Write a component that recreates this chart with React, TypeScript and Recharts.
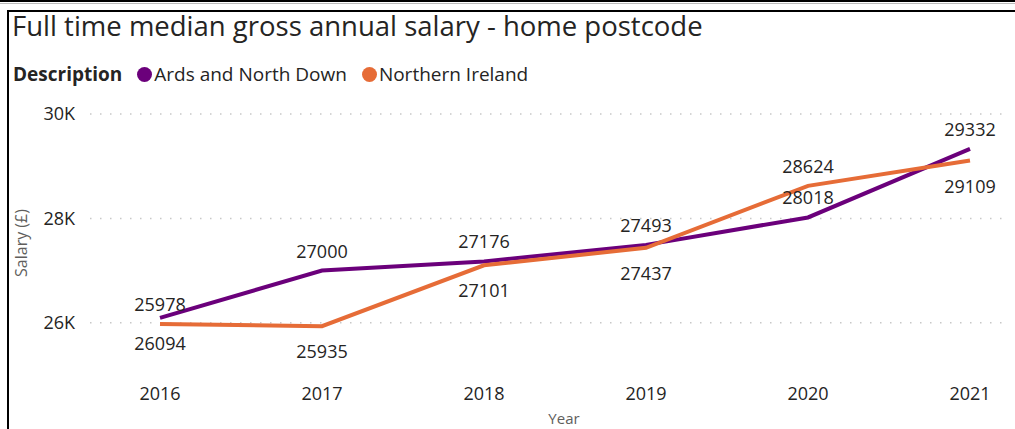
import React from "react";
import { LineChart, Line, XAxis, YAxis, CartesianGrid, Legend, LabelList } from "recharts";

const years = ["2016", "2017", "2018", "2019", "2020", "2021"];
const ardsSalary = [26094, 27000, 27176, 27493, 28018, 29332];
const niSalary = [25978, 25935, 27101, 27437, 28624, 29109];
// where Power BI put each data label relative to its point
const ardsLabelSide = ["below", "above", "above", "above", "above", "above"];
const niLabelSide = ["above", "below", "below", "below", "above", "below"];
const yTicks = [26000, 28000, 30000];

const PURPLE = "#6B007B";
const ORANGE = "#E66C37";
const FONT = "'Open Sans', 'Noto Sans', sans-serif";
const TEXT = "#252423";

const data = years.map((year, i) => ({
  year,
  ards: ardsSalary[i],
  ni: niSalary[i],
}));

function makeLabel(sides: string[]) {
  return (props: any) => {
    const { x, y, value, index } = props;
    const dy = sides[index] === "below" ? 25 : -20;
    return (
      <text
        x={x}
        y={y + dy}
        textAnchor="middle"
        dominantBaseline="central"
        fontSize={18}
        fontFamily={FONT}
        fill={TEXT}
      >
        {value}
      </text>
    );
  };
}

function LegendContent({ payload }: any) {
  return (
    <div style={{ display: "flex", alignItems: "center", fontFamily: FONT, fontSize: 19, color: TEXT, whiteSpace: "nowrap" }}>
      <span style={{ fontWeight: 700, marginRight: 15 }}>Description</span>
      {(payload || []).map((p: any) => (
        <span key={p.value} style={{ display: "flex", alignItems: "center", marginRight: 15 }}>
          <span
            style={{ width: 15, height: 15, borderRadius: 8, background: p.color, display: "inline-block", marginRight: 2 }}
          />
          {p.value}
        </span>
      ))}
    </div>
  );
}

export default function App() {
  return (
    <div style={{ position: "absolute", left: 0, top: 0, width: 1015, height: 429, overflow: "hidden", background: "#fff" }}>
      <div style={{ position: "absolute", left: 0, top: 0, width: 1015, height: 2, background: "#000" }} />
      <div style={{ position: "absolute", left: 0, top: 3, width: 1015, height: 1, background: "#bbb" }} />
      <div style={{ position: "absolute", left: 7, top: 10, width: 1008, height: 419, borderTop: "2px solid #000", borderLeft: "2px solid #000", boxSizing: "border-box" }} />
      <div style={{ position: "absolute", left: 12, top: 7, fontFamily: FONT, fontSize: 27.5, color: TEXT, whiteSpace: "nowrap" }}>
        Full time median gross annual salary - home postcode
      </div>
      <div
        style={{ position: "absolute", left: 21, top: 243, transform: "translate(-50%, -50%) rotate(-90deg)", fontFamily: FONT, fontSize: 16, color: "#605E5C", whiteSpace: "nowrap" }}
      >
        Salary (£)
      </div>
      <div
        style={{ position: "absolute", left: 564, top: 418, transform: "translate(-50%, -50%)", fontFamily: FONT, fontSize: 15, lineHeight: "18px", color: "#605E5C" }}
      >
        Year
      </div>
      <LineChart width={1015} height={429} data={data} margin={{ top: 114, right: 5, bottom: 24, left: 0 }}>
        <CartesianGrid
          vertical={false}
          horizontalValues={yTicks}
          stroke="#c8c8c8"
          strokeDasharray="1.5 8.5"
          strokeWidth={1.5}
        />
        <XAxis
          dataKey="year"
          axisLine={false}
          tickLine={false}
          height={30}
          padding={{ left: 70, right: 40 }}
          tickSize={0}
          tickMargin={12}
          tick={{ fontSize: 18, fontFamily: FONT, fill: TEXT }}
        />
        <YAxis
          width={90}
          domain={[25000, 30000]}
          ticks={yTicks}
          axisLine={false}
          tickLine={false}
          tickSize={0}
          tickMargin={15}
          tickFormatter={(v: number) => `${v / 1000}K`}
          tick={{ fontSize: 18, fontFamily: FONT, fill: TEXT }}
        />
        <Legend
          layout="horizontal"
          verticalAlign="middle"
          align="center"
          content={<LegendContent />}
          wrapperStyle={{ left: 13, top: 61, width: "auto" }}
        />
        <Line
          type="linear"
          dataKey="ards"
          name="Ards and North Down"
          stroke={PURPLE}
          strokeWidth={4}
          dot={false}
          isAnimationActive={false}
        >
          <LabelList dataKey="ards" content={makeLabel(ardsLabelSide)} />
        </Line>
        <Line
          type="linear"
          dataKey="ni"
          name="Northern Ireland"
          stroke={ORANGE}
          strokeWidth={4}
          dot={false}
          isAnimationActive={false}
        >
          <LabelList dataKey="ni" content={makeLabel(niLabelSide)} />
        </Line>
      </LineChart>
    </div>
  );
}
